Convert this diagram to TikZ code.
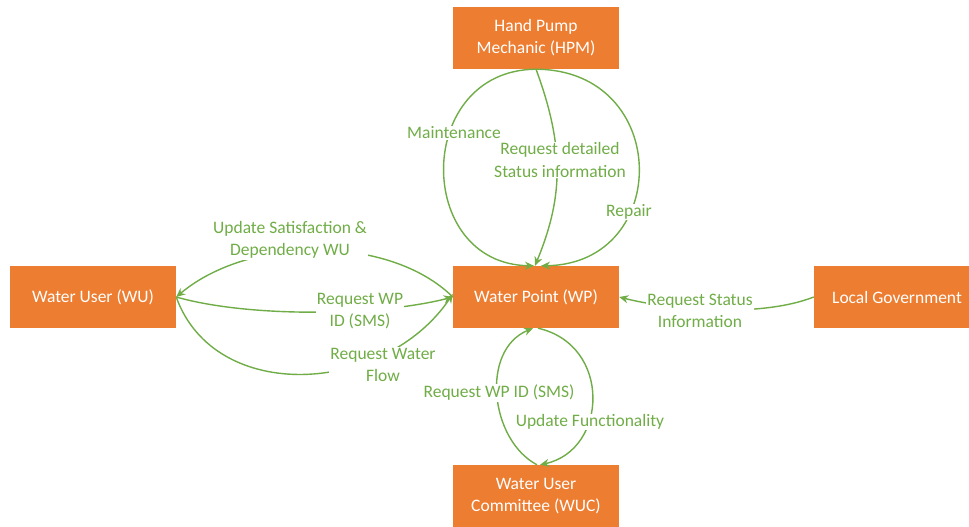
\documentclass[tikz,border=0pt]{standalone}
\usepackage{fontspec}
\setmainfont{Carlito}
\usetikzlibrary{arrows.meta}
\definecolor{boxorange}{HTML}{ED7D31}
\definecolor{flowgreen}{HTML}{70AD47}
\begin{document}
\begin{tikzpicture}[x=1pt,y=-1pt,
  actor/.style={fill=boxorange,text=white,minimum width=166pt,minimum height=62pt,
    inner sep=0pt,align=center,font=\fontsize{17.5}{22}\selectfont},
  flow/.style={draw=flowgreen,line width=1.4pt,-{Stealth[length=9pt,width=8pt]}},
  flowlabel/.style={fill=white,text=flowgreen,inner sep=1pt,align=center,
    font=\fontsize{17.5}{22.5}\selectfont}]
\useasboundingbox (0,0) rectangle (969,527);
\fill[white] (0,0) rectangle (969,527);

% actors
\node[actor] (HPM) at (536,38)  {Hand Pump\\Mechanic (HPM)};
\node[actor] (WU)  at (93,297)  {Water User (WU)};
\node[actor] (WP)  at (536,297) {Water Point (WP)};
\node[actor] (LG)  at (897,297) {Local Government};
\node[actor] (WUC) at (536,496) {Water User\\Committee (WUC)};

% hand pump mechanic -> water point
\draw[flow] (HPM.south) .. controls (414,70) and (414,264) .. ([xshift=-2pt]WP.north);
\draw[flow] (HPM.south) .. controls (566,150) and (562,200) .. ([xshift=-1pt]WP.north);
\draw[flow] (HPM.south) .. controls (672,70) and (672,264) .. ([xshift=5pt]WP.north);

% water user <-> water point
\draw[flow] (WP.west) .. controls (390,235) and (250,235) .. (WU.east);
\draw[flow] (WU.east) .. controls (250,318) and (380,316) .. (WP.west);
\draw[flow] (WU.east) .. controls (215,405) and (385,395) .. ([yshift=3pt]WP.west);

% local government -> water point
\draw[flow] (LG.west) .. controls (760,318) and (670,310) .. (WP.east);

% water point <-> water user committee
\draw[flow] ([xshift=1pt]WUC.north) .. controls (490,440) and (480,350) .. ([xshift=-3pt]WP.south);
\draw[flow] ([xshift=2pt]WP.south) .. controls (612,345) and (608,450) .. ([xshift=4pt]WUC.north);

% flow labels
\node[flowlabel] (lMaint)  at (454,133) {Maintenance};
\node[flowlabel] (lDetail) at (560,160) {Request detailed\\Status information};
\node[flowlabel] (lRepair) at (629,212) {Repair};
\node[flowlabel] (lSatis)  at (290,240) {Update Satisfaction \&\\Dependency WU};
\node[flowlabel] (lWPID)   at (360,311) {Request WP\\ID (SMS)};
\node[flowlabel] (lFlow)   at (383,365) {Request Water\\Flow};
\node[flowlabel] (lStatus) at (700,311) {Request Status\\Information};
\node[flowlabel] (lWUCID)  at (499,393) {Request WP ID (SMS)};
\node[flowlabel] (lFunc)   at (590,422) {Update Functionality};
\end{tikzpicture}
\end{document}
